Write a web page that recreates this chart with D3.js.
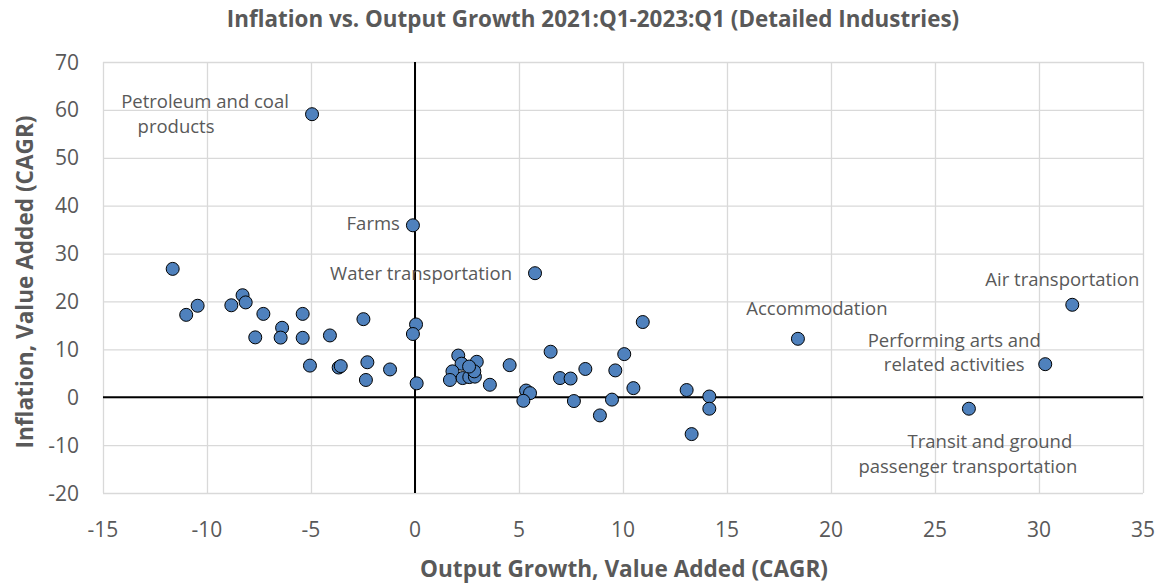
<!DOCTYPE html>
<html>
<head>
<meta charset="utf-8">
<script src="https://cdn.jsdelivr.net/npm/d3@7"></script>
<style>
  body { margin: 0; background: #fff; }
  text { font-family: "Open Sans", Lato, sans-serif; fill: #595959; }
</style>
</head>
<body>
<svg width="1160" height="583"></svg>
<script>
// output growth (x) and inflation (y), CAGR %
const growth = [-11.65, -11.0, -10.45, -8.83, -8.29, -8.14, -7.29, -7.68, -6.39, -6.46,
  -5.4, -5.4, -4.09, -2.48, 0.05, -0.1, -5.05, -3.67, -3.57, -2.29,
  -2.36, -1.2, 0.08, 2.08, 2.24, 2.97, 1.8, 1.68, 2.29, 2.61,
  2.88, 2.85, 2.6, 3.6, 4.55, 5.34, 5.53, 5.21, 6.52, 6.97,
  7.48, 8.19, 7.64, 8.89, 9.47, 9.63, 10.06, 10.5, 10.95, 13.06,
  14.15, 14.15, 13.3, -4.95, -0.1, 5.77, 18.41, 31.6, 30.3, 26.63];
const inflation = [26.8, 17.2, 19.1, 19.2, 21.3, 19.8, 17.4, 12.5, 14.5, 12.45,
  17.4, 12.4, 12.9, 16.3, 15.2, 13.2, 6.6, 6.2, 6.5, 7.3,
  3.6, 5.8, 2.9, 8.7, 7.0, 7.4, 5.4, 3.6, 4.0, 4.2,
  4.3, 5.4, 6.4, 2.6, 6.7, 1.4, 0.85, -0.75, 9.5, 4.0,
  3.9, 5.9, -0.8, -3.8, -0.5, 5.6, 9.0, 1.9, 15.7, 1.5,
  0.15, -2.4, -7.7, 59.1, 35.9, 25.9, 12.2, 19.3, 6.9, -2.4];

// labelled industries: index into the arrays above
const labelIndex = [53, 54, 55, 56, 57, 58, 59];
const labelLines = [
  ['Petroleum and coal', 'products'],
  ['Farms'],
  ['Water transportation'],
  ['Accommodation'],
  ['Air transportation'],
  ['Performing arts and', 'related activities'],
  ['Transit and ground', 'passenger transportation']
];
// pixel offsets of each label line from its point: [dx, dy, anchor]
const labelOffsets = [
  [[-107, -6, 'middle'], [-136, 19, 'middle']],
  [[-13, 5, 'end']],
  [[-23, 7, 'end']],
  [[19, -24, 'middle']],
  [[-10, -19, 'middle']],
  [[-91, -17, 'middle'], [-91, 7, 'middle']],
  [[21, 39, 'middle'], [-1, 64, 'middle']]
];

const xTicks = d3.range(-15, 36, 5);
const yTicks = d3.range(-20, 71, 10);

const margin = { left: 103, right: 17, top: 62, bottom: 90 };
const width = 1160 - margin.left - margin.right;
const height = 583 - margin.top - margin.bottom;

const x = d3.scaleLinear().domain([-15, 35]).range([0, width]);
const y = d3.scaleLinear().domain([-20, 70]).range([height, 0]);

const svg = d3.select('svg');
const g = svg.append('g')
  .attr('transform', 'translate(' + margin.left + ',' + margin.top + ')');

//gridlines
g.append('g')
  .call(d3.axisBottom(x).tickValues(xTicks).tickSize(-height).tickFormat(''))
  .attr('transform', 'translate(0,' + height + ')')
  .call(a => a.select('.domain').remove())
  .selectAll('line').attr('stroke', '#d9d9d9').attr('stroke-width', 1.3);
g.append('g')
  .call(d3.axisLeft(y).tickValues(yTicks).tickSize(-width).tickFormat(''))
  .call(a => a.select('.domain').remove())
  .selectAll('line').attr('stroke', '#d9d9d9').attr('stroke-width', 1.3);

//zero axes
g.append('line')
  .attr('x1', x(0)).attr('x2', x(0)).attr('y1', 0).attr('y2', height)
  .attr('stroke', '#000').attr('stroke-width', 2);
g.append('line')
  .attr('x1', 0).attr('x2', width).attr('y1', y(0)).attr('y2', y(0))
  .attr('stroke', '#000').attr('stroke-width', 2);

//tick labels
g.selectAll('.xlab')
  .data(xTicks)
  .enter()
  .append('text')
  .attr('x', d => x(d))
  .attr('y', height + 44)
  .attr('text-anchor', 'middle')
  .style('font-size', '21px')
  .text(d => d);
g.selectAll('.ylab')
  .data(yTicks)
  .enter()
  .append('text')
  .attr('x', -24)
  .attr('y', d => y(d) + 7.5)
  .attr('text-anchor', 'end')
  .style('font-size', '21px')
  .text(d => d);

//points
const pts = growth.map((d, i) => ({ gx: d, inf: inflation[i] }));
g.selectAll('circle')
  .data(pts)
  .enter()
  .append('circle')
  .attr('cx', d => x(d.gx))
  .attr('cy', d => y(d.inf))
  .attr('r', 6.5)
  .attr('fill', '#4f81bd')
  .attr('stroke', '#000')
  .attr('stroke-width', 1);

//point labels
labelIndex.forEach((idx, k) => {
  labelLines[k].forEach((line, j) => {
    const off = labelOffsets[k][j];
    g.append('text')
      .attr('x', x(growth[idx]) + off[0])
      .attr('y', y(inflation[idx]) + off[1])
      .attr('text-anchor', off[2])
      .style('font-size', '18.5px')
      .text(line);
  });
});

//title
svg.append('text')
  .attr('x', 593)
  .attr('y', 27)
  .attr('text-anchor', 'middle')
  .style('font-size', '22.4px')
  .style('font-weight', 'bold')
  .text('Inflation vs. Output Growth 2021:Q1-2023:Q1 (Detailed Industries)');

//x axis title
svg.append('text')
  .attr('x', 624)
  .attr('y', 577)
  .attr('text-anchor', 'middle')
  .style('font-size', '22.6px')
  .style('font-weight', 'bold')
  .text('Output Growth, Value Added (CAGR)');

//y axis title
svg.append('text')
  .attr('transform', 'translate(33,282) rotate(-90)')
  .attr('text-anchor', 'middle')
  .style('font-size', '22.6px')
  .style('font-weight', 'bold')
  .text('Inflation, Value Added (CAGR)');
</script>
</body>
</html>
